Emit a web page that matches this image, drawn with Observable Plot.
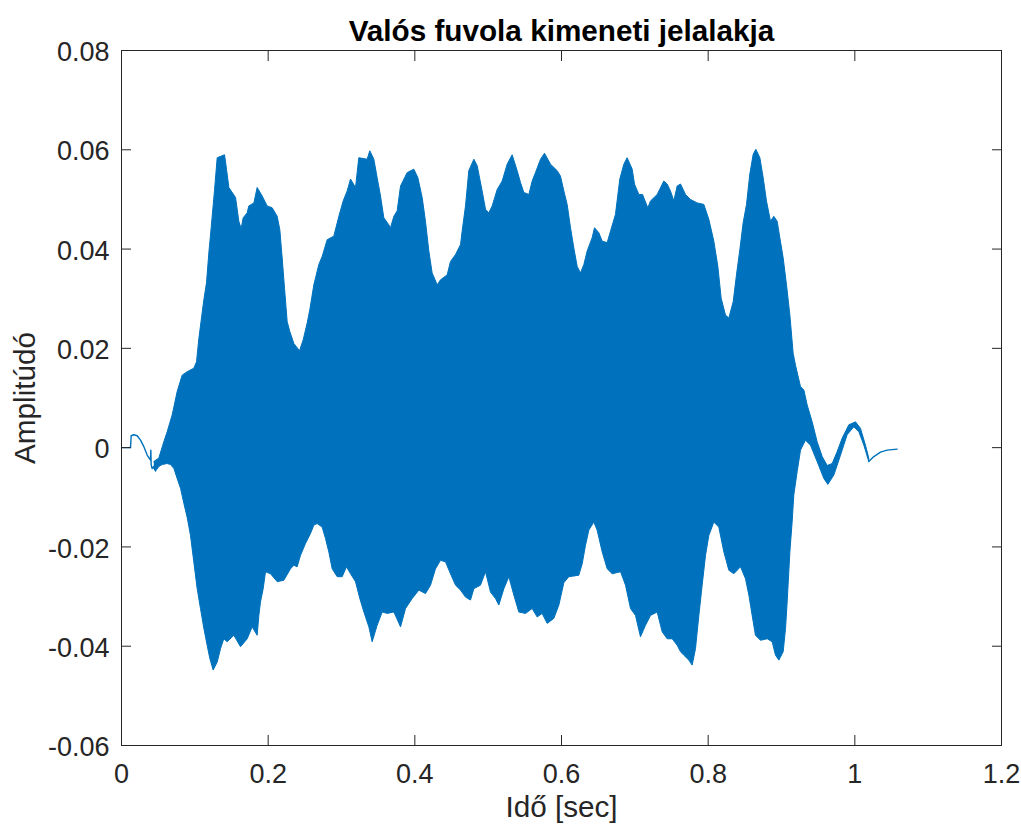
<!DOCTYPE html>
<html>
<head>
<meta charset="utf-8">
<script src="https://cdn.jsdelivr.net/npm/d3@7"></script>
<script src="https://cdn.jsdelivr.net/npm/@observablehq/plot@0.6"></script>
<style>
  html, body { margin: 0; padding: 0; background: #ffffff; }
  #chart svg { display: block; }
</style>
</head>
<body>
<div id="chart"></div>
<script>
// ---- Data (time in s, amplitude) ----
// Upper envelope of the dense flute oscillation
const upperTime = [0.044,0.0509,0.0577,0.0623,0.0691,0.0759,0.0827,0.0895,0.0986,0.1023,0.1055,0.1123,0.1159,0.1191,0.1223,0.1268,0.1305,0.1405,0.1432,0.1464,0.1555,0.16,0.1632,0.1659,0.1714,0.1736,0.1805,0.185,0.1918,0.1986,0.2055,0.2123,0.2159,0.2191,0.2223,0.2259,0.2295,0.235,0.2427,0.2477,0.2532,0.2568,0.2623,0.2691,0.2736,0.2805,0.2895,0.2964,0.3023,0.3077,0.3123,0.3191,0.3236,0.335,0.3386,0.3441,0.3486,0.3532,0.3577,0.3645,0.3668,0.3714,0.3759,0.3805,0.3895,0.3986,0.4041,0.41,0.4145,0.4191,0.4236,0.4305,0.435,0.4441,0.4486,0.4555,0.4623,0.4645,0.4691,0.4736,0.4805,0.485,0.4918,0.4964,0.5009,0.5055,0.5123,0.5191,0.5259,0.5327,0.5395,0.5441,0.5486,0.5555,0.56,0.5645,0.5714,0.5768,0.585,0.5941,0.5986,0.6032,0.6077,0.6123,0.6168,0.6214,0.6259,0.6305,0.635,0.6418,0.645,0.6509,0.6555,0.6623,0.6668,0.6736,0.6795,0.685,0.6895,0.6964,0.6995,0.7055,0.7105,0.7177,0.7214,0.7305,0.7395,0.7441,0.7486,0.7532,0.7577,0.7623,0.7691,0.7759,0.785,0.7941,0.8009,0.8077,0.8132,0.8177,0.8236,0.8282,0.8341,0.8386,0.8432,0.8477,0.8523,0.8568,0.8614,0.865,0.8705,0.875,0.8795,0.885,0.8895,0.8941,0.8977,0.9023,0.9068,0.9114,0.9159,0.9191,0.9259,0.9305,0.935,0.9418,0.9486,0.9555,0.9623,0.9691,0.9759,0.9827,0.9918,1.0009,1.0077,1.0145,1.019];
const upperAmp = [-0.0028,-0.0021,0.0012,0.0032,0.0066,0.0113,0.0146,0.0153,0.016,0.0173,0.022,0.0298,0.0332,0.0392,0.0443,0.0518,0.0584,0.059,0.0561,0.0524,0.0504,0.0456,0.0441,0.0463,0.0473,0.0487,0.0493,0.0524,0.0507,0.0487,0.0483,0.0466,0.0439,0.0382,0.0321,0.0254,0.0234,0.021,0.0195,0.0217,0.0251,0.0278,0.0328,0.0369,0.0385,0.0419,0.0426,0.0466,0.0497,0.0517,0.0541,0.0524,0.0584,0.0581,0.0598,0.0581,0.0544,0.0507,0.0463,0.0449,0.0443,0.0466,0.0477,0.0527,0.0554,0.0561,0.0544,0.0504,0.0456,0.0396,0.0352,0.0328,0.0338,0.0348,0.0375,0.0389,0.0409,0.0436,0.0487,0.0558,0.0581,0.0568,0.0517,0.048,0.0473,0.0487,0.052,0.0537,0.0571,0.059,0.0558,0.0534,0.0514,0.051,0.0537,0.0554,0.0581,0.0593,0.0571,0.0558,0.0547,0.0517,0.049,0.0443,0.0402,0.0365,0.0352,0.0369,0.0396,0.0423,0.0443,0.0433,0.0416,0.0413,0.0436,0.047,0.0541,0.0571,0.0584,0.0561,0.0531,0.051,0.051,0.0483,0.0497,0.051,0.0537,0.0531,0.0517,0.0497,0.0527,0.0531,0.051,0.05,0.0493,0.049,0.046,0.0416,0.0365,0.0301,0.0267,0.0261,0.0294,0.0348,0.0399,0.0453,0.049,0.0551,0.0591,0.0601,0.0584,0.0544,0.0497,0.0456,0.0466,0.0456,0.0423,0.0382,0.0328,0.0267,0.019,0.0166,0.0123,0.0116,0.0086,0.0052,0.0012,-0.0018,-0.0036,-0.0032,-0.0008,0.0019,0.0046,0.0052,0.0039,0.0005,-0.0021];

// Lower envelope of the dense flute oscillation
const lowerTime = [0.044,0.0464,0.0509,0.0555,0.0623,0.0668,0.0714,0.0759,0.0805,0.085,0.0895,0.0941,0.0986,0.1032,0.1077,0.1123,0.1168,0.1205,0.125,0.1305,0.135,0.1395,0.1441,0.1532,0.1623,0.1714,0.1782,0.185,0.1873,0.1895,0.1932,0.1964,0.2032,0.2123,0.2214,0.2305,0.235,0.2395,0.2441,0.2509,0.2577,0.2623,0.2668,0.2736,0.2782,0.2827,0.2873,0.2941,0.3009,0.3068,0.3123,0.3191,0.325,0.3305,0.3373,0.3418,0.3486,0.3555,0.3623,0.3714,0.3805,0.3873,0.3964,0.4055,0.4145,0.4214,0.4282,0.435,0.4418,0.4486,0.4555,0.4623,0.4691,0.4759,0.4805,0.4895,0.4964,0.5032,0.51,0.5145,0.5214,0.5282,0.535,0.5418,0.5509,0.56,0.5668,0.5736,0.5805,0.5895,0.5964,0.6032,0.61,0.6236,0.6282,0.6327,0.6373,0.6441,0.6486,0.6555,0.6623,0.6691,0.6805,0.6873,0.6941,0.7009,0.7077,0.7145,0.7214,0.7305,0.7373,0.7441,0.7509,0.7577,0.7623,0.7668,0.7736,0.7782,0.7827,0.7873,0.7918,0.7964,0.8009,0.8077,0.8145,0.8214,0.8282,0.835,0.8441,0.8509,0.8555,0.86,0.8645,0.8714,0.8805,0.8873,0.8918,0.8964,0.9023,0.9055,0.9077,0.9114,0.9145,0.9168,0.9214,0.9259,0.9327,0.9395,0.9486,0.9577,0.9632,0.9714,0.9805,0.9895,0.9986,1.0055,1.0123,1.019];
const lowerAmp = [-0.0042,-0.0047,-0.0038,-0.0034,-0.0032,-0.0034,-0.0042,-0.0062,-0.0082,-0.0112,-0.014,-0.0177,-0.023,-0.0284,-0.0324,-0.0364,-0.0398,-0.0425,-0.0448,-0.0432,-0.0405,-0.0385,-0.0391,-0.0378,-0.0401,-0.0385,-0.0361,-0.0378,-0.0338,-0.0311,-0.0284,-0.025,-0.0254,-0.027,-0.0267,-0.0244,-0.0237,-0.024,-0.0217,-0.0193,-0.0173,-0.0156,-0.0153,-0.016,-0.0183,-0.021,-0.0244,-0.026,-0.026,-0.024,-0.0254,-0.027,-0.0304,-0.0331,-0.0361,-0.0391,-0.0358,-0.0331,-0.0334,-0.0331,-0.0361,-0.0324,-0.0304,-0.0287,-0.0294,-0.0277,-0.0244,-0.0227,-0.023,-0.0254,-0.0277,-0.0287,-0.0301,-0.0307,-0.0284,-0.0277,-0.025,-0.0291,-0.0304,-0.0317,-0.0284,-0.026,-0.0297,-0.0331,-0.0334,-0.0324,-0.0341,-0.0334,-0.0354,-0.0344,-0.0317,-0.0272,-0.026,-0.0257,-0.0234,-0.0197,-0.0166,-0.015,-0.0166,-0.021,-0.0244,-0.0254,-0.025,-0.0277,-0.0324,-0.0338,-0.0381,-0.0358,-0.0338,-0.0331,-0.0371,-0.0385,-0.0385,-0.0398,-0.0411,-0.0418,-0.0428,-0.0438,-0.0405,-0.0338,-0.0277,-0.0217,-0.0177,-0.015,-0.016,-0.021,-0.0247,-0.0254,-0.024,-0.0264,-0.0297,-0.0338,-0.0378,-0.0388,-0.0385,-0.0391,-0.0418,-0.0428,-0.0411,-0.0364,-0.0311,-0.021,-0.015,-0.0095,-0.0048,-0.0005,0.0015,0.0005,-0.0028,-0.0062,-0.0074,-0.0055,-0.0015,0.0026,0.0042,0.0032,0.0005,-0.0028];

// Thin single-line parts: onset before the tone, decay after it
const onsetTime = [0,0.0123,0.0132,0.0168,0.0214,0.0259,0.0305,0.035,0.0395,0.04,0.0405,0.0418,0.0441,0.0464];
const onsetAmp  = [0,0,0.0024,0.0026,0.0024,0.0015,0.0002,-0.0015,-0.0025,-0.0005,-0.0035,-0.0042,-0.0038,-0.0047];
const tailTime = [1.019,1.0259,1.035,1.0441,1.0577];
const tailAmp  = [-0.0028,-0.0018,-0.0009,-0.0005,-0.0003];

// Axis ticks and texts
const xTicks = [0, 0.2, 0.4, 0.6, 0.8, 1, 1.2];
const yTicks = [-0.06, -0.04, -0.02, 0, 0.02, 0.04, 0.06, 0.08];
const titleText = "Valós fuvola kimeneti jelalakja";
const xLabel = "Idő [sec]";
const yLabel = "Amplitúdó";

// ---- Build tables for the library ----
const zip = (ts, as) => ts.map((t, i) => ({t, a: as[i]}));
const upper = zip(upperTime, upperAmp);
const lower = zip(lowerTime, lowerAmp);
const band = upper.concat(lower.slice().reverse());
const onset = zip(onsetTime, onsetAmp);
const tail = zip(tailTime, tailAmp);

const blue = "#0072BD";
const ink = "#262626";
const fmt = d => String(d);
const font = "'Liberation Sans', Arial, Helvetica, sans-serif";

const chart = Plot.plot({
  width: 1021,
  height: 827,
  marginLeft: 121,
  marginRight: 20,
  marginTop: 50,
  marginBottom: 82,
  style: {fontFamily: font, fontSize: "27px", color: ink, background: "#ffffff"},
  x: {domain: [0, 1.2]},
  y: {domain: [-0.06, 0.08]},
  marks: [
    Plot.line(band, {x: "t", y: "a", fill: blue, stroke: blue, strokeWidth: 1, curve: "linear"}),
    Plot.line(onset, {x: "t", y: "a", stroke: blue, strokeWidth: 1.4, curve: "linear"}),
    Plot.line(tail, {x: "t", y: "a", stroke: blue, strokeWidth: 1.4, curve: "linear"}),
    Plot.frame({stroke: ink, strokeWidth: 1}),
    // inward tick marks on all four sides
    Plot.axisX({anchor: "bottom", ticks: xTicks, tickSize: -10, tickFormat: () => "", label: null, stroke: ink}),
    Plot.axisX({anchor: "top", ticks: xTicks, tickSize: -10, tickFormat: () => "", label: null, stroke: ink}),
    Plot.axisY({anchor: "left", ticks: yTicks, tickSize: -10, tickFormat: () => "", label: null, stroke: ink}),
    Plot.axisY({anchor: "right", ticks: yTicks, tickSize: -10, tickFormat: () => "", label: null, stroke: ink}),
    // tick labels
    Plot.axisX({anchor: "bottom", ticks: xTicks, tickSize: 0, tickPadding: 18, tickFormat: fmt, label: null, fontSize: 27, fill: ink}),
    Plot.axisY({anchor: "left", ticks: yTicks, tickSize: 0, tickPadding: 12, tickFormat: fmt, label: null, fontSize: 27, fill: ink, dy: 2}),
    // axis titles and chart title
    Plot.text([xLabel], {frameAnchor: "bottom", textAnchor: "middle", lineAnchor: "top", dy: 50, fontSize: 29.7, fill: ink}),
    Plot.text([yLabel], {frameAnchor: "left", textAnchor: "middle", lineAnchor: "middle", rotate: -90, dx: -96, fontSize: 29.7, fill: ink}),
    Plot.text([titleText], {frameAnchor: "top", textAnchor: "middle", lineAnchor: "top", dy: -31, fontSize: 29.7, fontWeight: "bold", fill: "#000000"})
  ]
});

document.getElementById("chart").appendChild(chart);
</script>
</body>
</html>
